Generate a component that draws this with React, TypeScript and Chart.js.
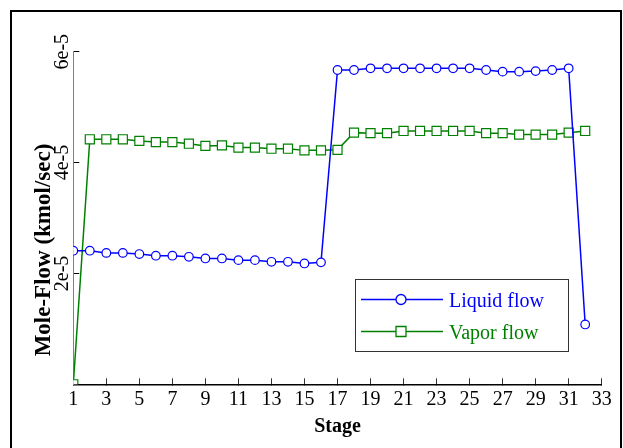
import React, { useEffect, useRef } from 'react';
import { Chart, registerables } from 'chart.js';

Chart.register(...registerables);

const stages = [1, 2, 3, 4, 5, 6, 7, 8, 9, 10, 11, 12, 13, 14, 15, 16, 17, 18, 19, 20, 21, 22, 23, 24, 25, 26, 27, 28, 29, 30, 31, 32];
const liquidFlow = [
  2.41e-5, 2.41e-5, 2.37e-5, 2.37e-5, 2.35e-5, 2.32e-5, 2.32e-5, 2.3e-5, 2.27e-5, 2.27e-5,
  2.24e-5, 2.24e-5, 2.21e-5, 2.21e-5, 2.18e-5, 2.2e-5, 5.67e-5, 5.67e-5, 5.7e-5, 5.7e-5,
  5.7e-5, 5.7e-5, 5.7e-5, 5.7e-5, 5.7e-5, 5.67e-5, 5.64e-5, 5.64e-5, 5.65e-5, 5.67e-5,
  5.7e-5, 1.08e-5,
];
const vaporFlow = [
  0, 4.42e-5, 4.42e-5, 4.42e-5, 4.39e-5, 4.37e-5, 4.37e-5, 4.34e-5, 4.3e-5, 4.31e-5,
  4.27e-5, 4.27e-5, 4.25e-5, 4.25e-5, 4.22e-5, 4.22e-5, 4.23e-5, 4.54e-5, 4.53e-5, 4.53e-5,
  4.57e-5, 4.57e-5, 4.57e-5, 4.57e-5, 4.57e-5, 4.53e-5, 4.53e-5, 4.505e-5, 4.505e-5, 4.505e-5,
  4.54e-5, 4.57e-5,
];
const seriesLabels = ['Liquid flow', 'Vapor flow'];
const xTickValues = [1, 3, 5, 7, 9, 11, 13, 15, 17, 19, 21, 23, 25, 27, 29, 31, 33];
const yTickValues = [2e-5, 4e-5, 6e-5];
const yTickLabels = ['2e-5', '4e-5', '6e-5'];
const xAxisTitle = 'Stage';
const yAxisTitle = 'Mole-Flow (kmol/sec)';

const SERIF = "'Liberation Serif', 'Times New Roman', serif";

const framePlugin = {
  id: 'frame',
  afterDraw(chart: any) {
    const ctx = chart.ctx;
    ctx.save();
    ctx.strokeStyle = '#000';
    ctx.lineWidth = 2;
    ctx.strokeRect(11, 11, 610, 460);
    // y axis title
    ctx.translate(44.5, 250);
    ctx.rotate(-Math.PI / 2);
    ctx.font = `bold 23px ${SERIF}`;
    ctx.fillStyle = '#000';
    ctx.textAlign = 'center';
    ctx.textBaseline = 'middle';
    ctx.fillText(yAxisTitle, 0, 0);
    ctx.restore();
  },
};

const legendPlugin = {
  id: 'boxLegend',
  afterDraw(chart: any) {
    const ctx = chart.ctx;
    const ds = chart.data.datasets;
    ctx.save();
    ctx.fillStyle = '#fff';
    ctx.fillRect(355.5, 279.5, 213, 72);
    ctx.strokeStyle = '#333';
    ctx.lineWidth = 1;
    ctx.strokeRect(355.5, 279.5, 213, 72);
    const rows = [299.5, 331.5];
    ds.forEach((d: any, i: number) => {
      const y = rows[i];
      ctx.strokeStyle = d.borderColor;
      ctx.lineWidth = 1.5;
      ctx.beginPath();
      ctx.moveTo(361, y);
      ctx.lineTo(443, y);
      ctx.stroke();
      ctx.fillStyle = '#fff';
      ctx.lineWidth = 1.3;
      ctx.beginPath();
      if (d.pointStyle === 'rect') {
        ctx.rect(396, y - 5, 10, 10);
      } else {
        ctx.arc(401, y, 5, 0, Math.PI * 2);
      }
      ctx.fill();
      ctx.stroke();
      ctx.fillStyle = d.borderColor;
      ctx.font = `20px ${SERIF}`;
      ctx.textAlign = 'left';
      ctx.textBaseline = 'alphabetic';
      ctx.fillText(d.label, 449, y + 7.7);
    });
    ctx.restore();
  },
};

export default function App() {
  const ref = useRef<HTMLCanvasElement>(null);
  useEffect(() => {
    const chart = new Chart(ref.current as HTMLCanvasElement, {
      type: 'line',
      data: {
        datasets: [
          {
            label: seriesLabels[0],
            data: stages.map((s, i) => ({ x: s, y: liquidFlow[i] })),
            borderColor: '#0000ff',
            backgroundColor: '#ffffff',
            borderWidth: 1.5,
            pointStyle: 'circle',
            pointRadius: 4.3,
            pointBorderWidth: 1.2,
            pointBackgroundColor: '#ffffff',
            pointBorderColor: '#0000ff',
            tension: 0,
          },
          {
            label: seriesLabels[1],
            data: stages.map((s, i) => ({ x: s, y: vaporFlow[i] })),
            borderColor: '#008000',
            backgroundColor: '#ffffff',
            borderWidth: 1.5,
            pointStyle: 'rect',
            pointRadius: 6.4,
            pointBorderWidth: 1.2,
            pointBackgroundColor: '#ffffff',
            pointBorderColor: '#008000',
            tension: 0,
          },
        ],
      },
      options: {
        animation: false,
        responsive: false,
        devicePixelRatio: 1,
        layout: { padding: { top: 51.7, right: 21.3, left: 0, bottom: 0 } },
        plugins: { legend: { display: false }, tooltip: { enabled: false } },
        scales: {
          x: {
            type: 'linear',
            min: 1,
            max: 33,
            afterBuildTicks: (s: any) => {
              s.ticks = xTickValues.map((v) => ({ value: v }));
            },
            afterFit: (s: any) => {
              s.height = 63.7;
            },
            ticks: {
              font: { family: SERIF, size: 20 },
              color: '#000',
              padding: 9,
              maxRotation: 0,
              autoSkip: false,
              callback: (v: any) => String(v),
            },
            grid: { drawOnChartArea: false, drawTicks: true, tickLength: -6, color: '#333', tickWidth: 1 },
            border: { display: true, color: '#000', width: 1.5 },
            title: {
              display: true,
              text: xAxisTitle,
              color: '#000',
              font: { family: SERIF, size: 20, weight: 'bold' },
              padding: { top: 0, bottom: 9 },
            },
          },
          y: {
            type: 'linear',
            min: 0,
            max: 6e-5,
            afterBuildTicks: (s: any) => {
              s.ticks = yTickValues.map((v) => ({ value: v }));
            },
            afterFit: (s: any) => {
              s.width = 73.3;
            },
            ticks: {
              font: { family: SERIF, size: 20 },
              color: '#000',
              padding: -1.5,
              minRotation: 90,
              maxRotation: 90,
              crossAlign: 'center',
              callback: (_v: any, i: number) => yTickLabels[i],
            },
            grid: { drawOnChartArea: false, drawTicks: true, tickLength: -6, color: '#000', tickWidth: 1 },
            border: { display: true, color: '#808080', width: 1 },
          },
        },
      },
      plugins: [framePlugin, legendPlugin],
    } as any);
    return () => chart.destroy();
  }, []);
  return (
    <div style={{ position: 'fixed', left: 0, top: 0, width: 623, height: 448, background: '#fff' }}>
      <canvas ref={ref} width={623} height={448} style={{ display: 'block' }} />
    </div>
  );
}
